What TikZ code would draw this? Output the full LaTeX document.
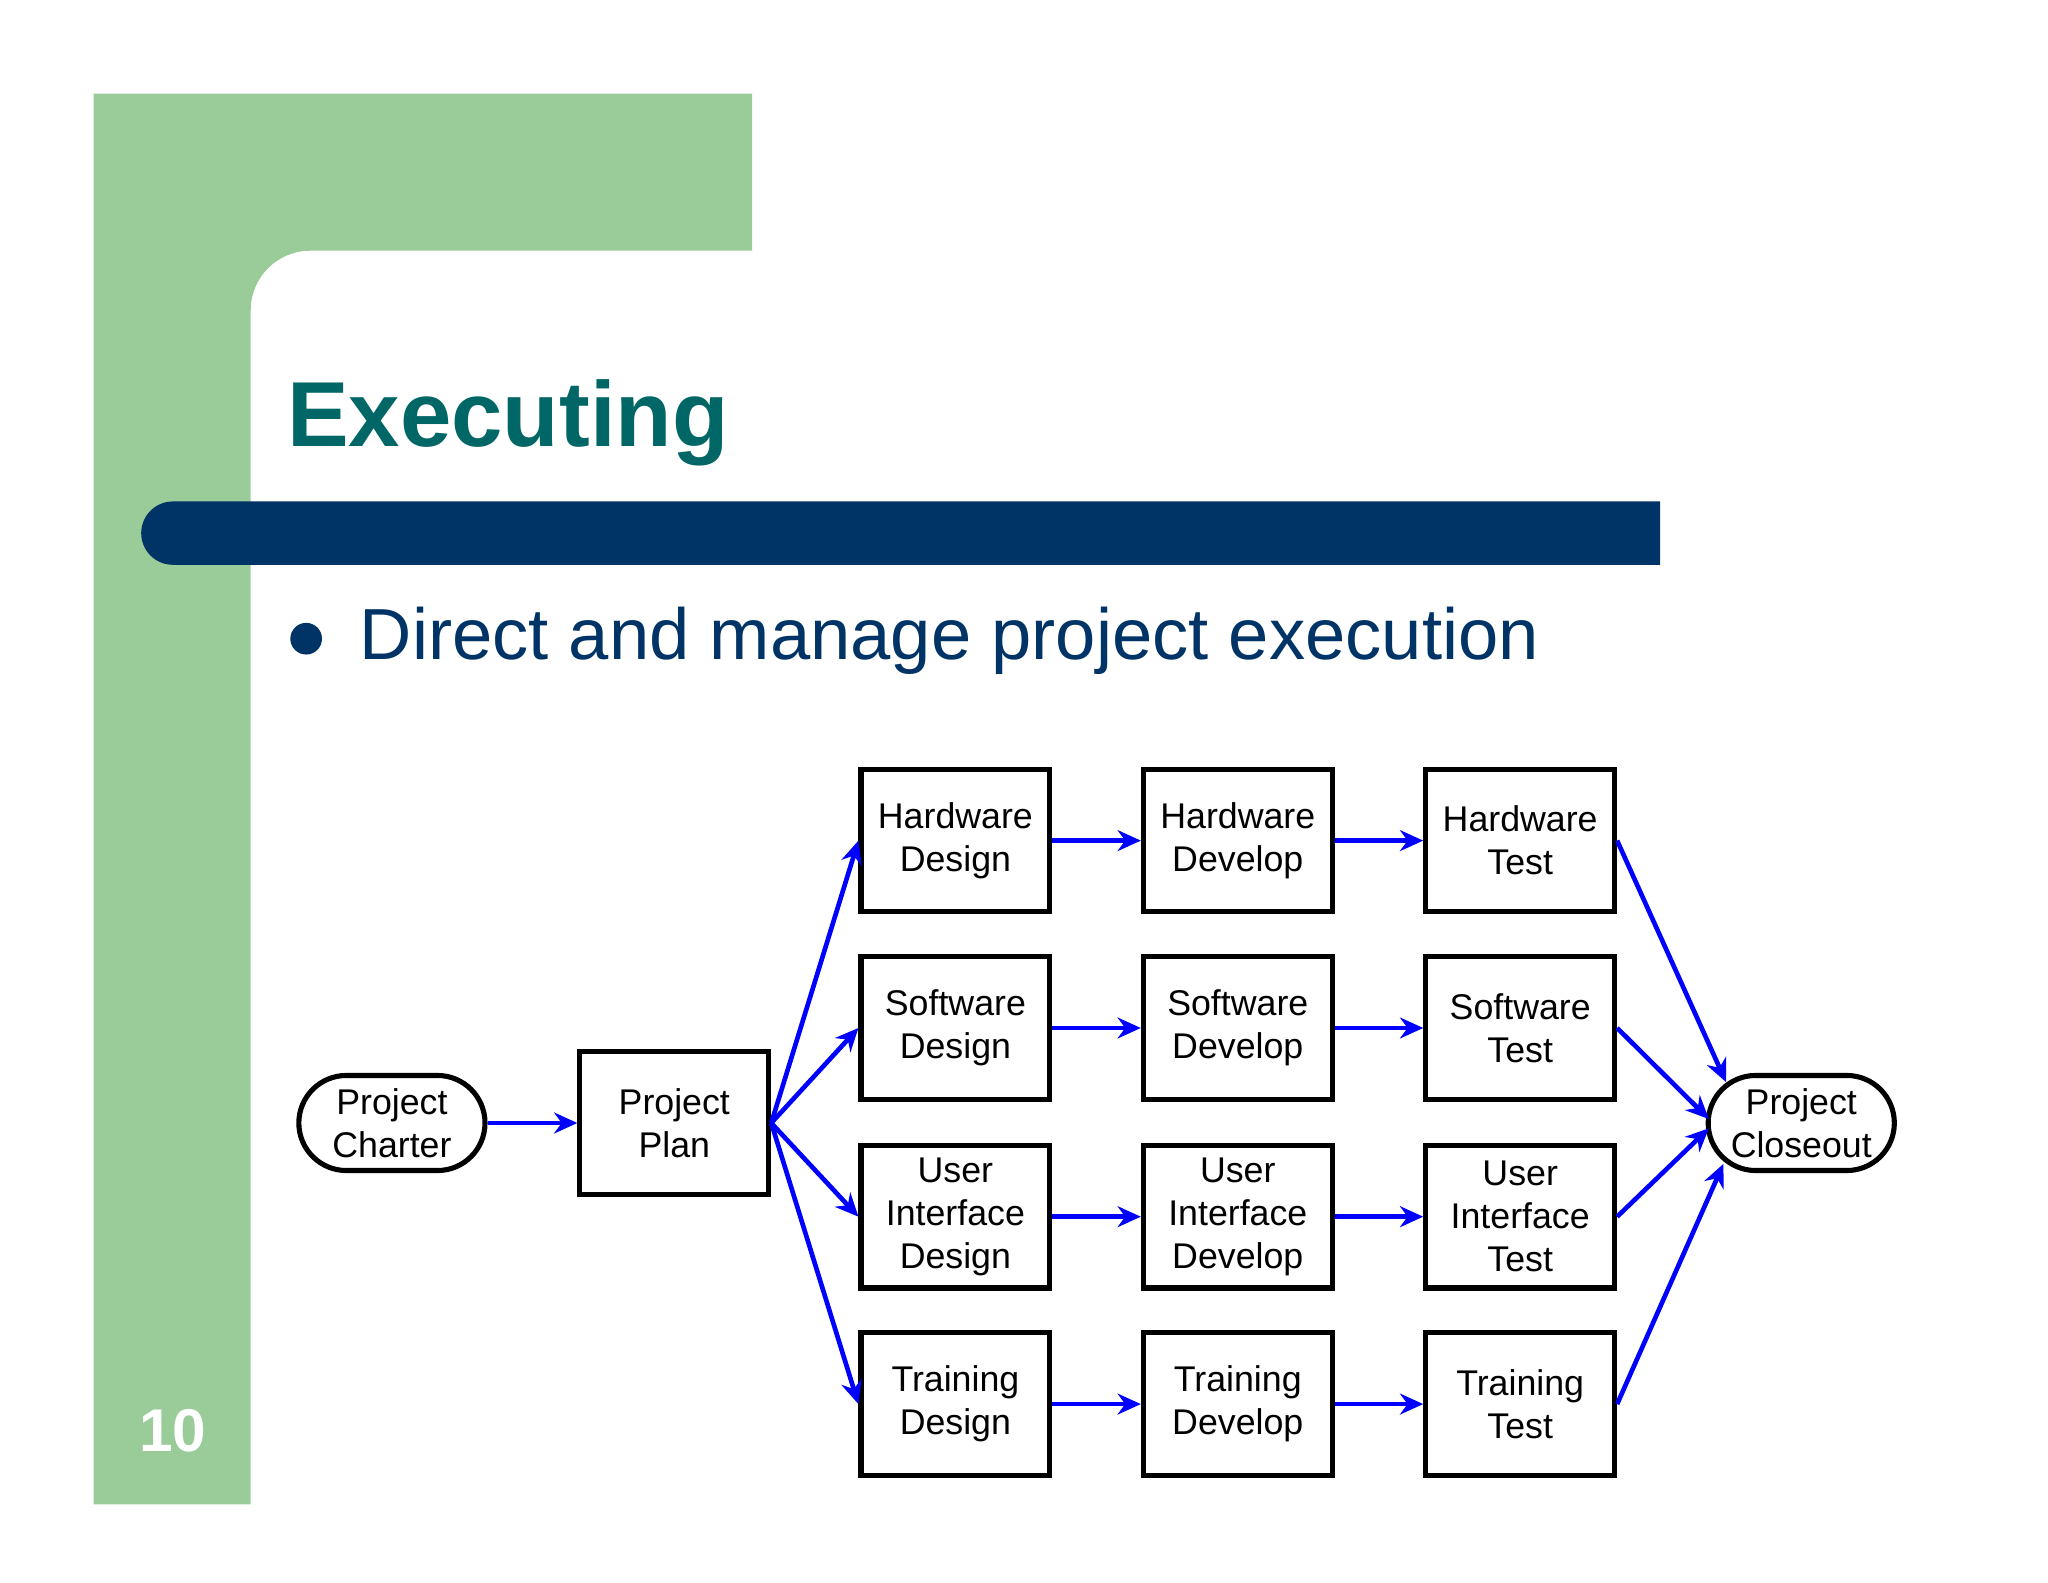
\documentclass[tikz,border=0pt]{standalone}
\usepackage{fontspec}
\setmainfont{Liberation Sans}
\usetikzlibrary{arrows.meta}
\definecolor{pgreen}{HTML}{99CC99}
\definecolor{pteal}{HTML}{006666}
\definecolor{pnavy}{HTML}{003366}
\begin{document}
\begin{tikzpicture}[x=0.01cm,y=-0.01cm,
  box/.style={draw,line width=1.1pt,minimum width=1.43cm,minimum height=1.08cm,align=center,font=\fontsize{7.7}{9.3}\selectfont,inner sep=0pt},
  term/.style={draw,line width=1.1pt,minimum width=1.41cm,minimum height=0.72cm,rounded corners=0.36cm,align=center,font=\fontsize{7.7}{9.3}\selectfont,inner sep=0pt},
  arr/.style={draw=blue,line width=1pt,-{Stealth[length=5pt,width=4.5pt]}}]
\useasboundingbox (0,0) rectangle (1552,1199);
\fill[white] (0,0) rectangle (1552,1199);
\fill[pgreen] (71,71) -- (570,71) -- (570,190) -- (235,190) arc[start angle=-90,end angle=-180,radius=45] -- (190,1140) -- (71,1140) -- cycle;
\node[anchor=base west,text=pteal,font=\fontsize{19.9}{23}\bfseries\selectfont,inner sep=0pt] (title) at (217,338) {Executing};
\fill[pnavy] (1258,380) -- (131,380) arc[start angle=-90,end angle=-270,radius=24] -- (1258,428) -- cycle;
\fill[pnavy] (232,484) circle (12);
\node[anchor=base west,text=pnavy,font=\fontsize{15.6}{19}\selectfont,inner sep=0pt] (bul) at (272,500) {Direct and manage project execution};
\node[anchor=base,text=white,font=\fontsize{13}{15}\bfseries\selectfont,inner sep=0pt] (num) at (131,1100) {10};
\node[term] (ch) at (297,851) {Project\\Charter};
\node[box] (pl) at (511,851) {Project\\Plan};
\node[term] (cl) at (1365,851) {Project\\Closeout};
\foreach \n/\y/\a/\b/\c in {h/637/Hardware\\Design/Hardware\\Develop/Hardware\\Test,
  s/779/Software\\Design/Software\\Develop/Software\\Test,
  u/922/User\\Interface\\Design/User\\Interface\\Develop/User\\Interface\\Test,
  t/1064/Training\\Design/Training\\Develop/Training\\Test}{
  \node[box] (\n1) at (724,\y) {\a};
  \node[box] (\n2) at (938,\y) {\b};
  \node[box] (\n3) at (1152,\y) {\c};
  \draw[arr] (pl.east) -- (\n1.west);
  \draw[arr] (\n1) -- (\n2);
  \draw[arr] (\n2) -- (\n3);
}
\draw[arr] (ch) -- (pl);
\coordinate (c1) at (1308,820);
\coordinate (c2) at (1295,848);
\coordinate (c3) at (1295,855);
\coordinate (c4) at (1306,882);
\draw[arr] (h3.east) -- (c1);
\draw[arr] (s3.east) -- (c2);
\draw[arr] (u3.east) -- (c3);
\draw[arr] (t3.east) -- (c4);
\end{tikzpicture}
\end{document}
